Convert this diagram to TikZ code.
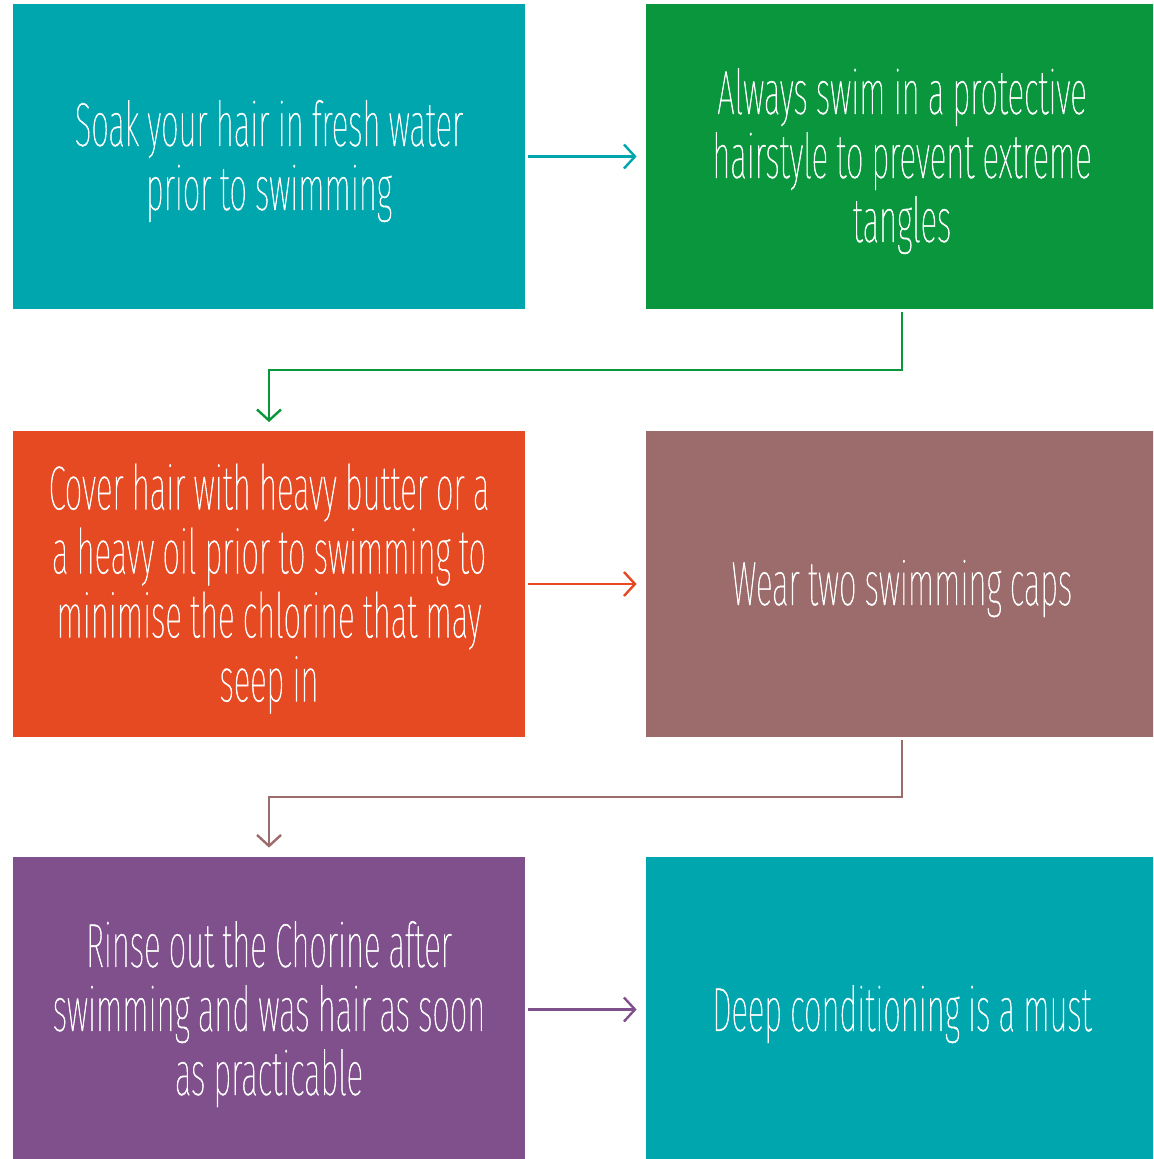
\documentclass[tikz,border=0pt]{standalone}
\usepackage{fontspec}
\setmainfont{Fira Sans Thin}[FakeStretch=0.5, FakeBold=0.8, WordSpace={0.9,0,0}]
\usetikzlibrary{arrows.meta,calc}

\definecolor{teal}{HTML}{00A6AE}
\definecolor{leaf}{HTML}{0A963C}
\definecolor{flame}{HTML}{E64A23}
\definecolor{mauve}{HTML}{9C6B6B}
\definecolor{plum}{HTML}{80508C}

\begin{document}
\begin{tikzpicture}[
    x=0.5pt, y=-0.5pt,
    font=\fontsize{31}{32}\selectfont,
    tipbox/.style={minimum width=256pt, minimum height=152.5pt, inner sep=0pt,
        align=center, text=white, text depth=1.5pt},
    flow/.style={line width=1.2pt, -{Straight Barb[length=5.5pt, width=12pt, line width=1.2pt]},
        shorten <=1.5pt, shorten >=4.5pt}
]

\useasboundingbox (0,0) rectangle (1153,1159);
\clip (0,0) rectangle (1153,1159);

% === Row 1 ===
\node[tipbox, fill=teal] (soak) at (269,156.5)
    {Soak your hair in fresh water\\ prior to swimming};
\node[tipbox, fill=leaf] (style) at (902,156.5)
    {Always swim in a protective\\ hairstyle to prevent extreme\\ tangles};

% === Row 2 ===
\node[tipbox, fill=flame] (cover) at (269,584)
    {Cover hair with heavy butter or a\\ a heavy oil prior to swimming to\\ minimise the chlorine that may\\ seep in};
\node[tipbox, fill=mauve] (caps) at (902,584)
    {Wear two swimming caps};

% === Row 3 ===
\node[tipbox, fill=plum] (rinse) at (269,1009.5)
    {Rinse out the Chorine after\\ swimming and was hair as soon\\ as practicable};
\node[tipbox, fill=teal] (deep) at (902,1009.5)
    {Deep conditioning is a must};

% arrows
\draw[flow, teal] (soak) -- (style);
\draw[flow, leaf] (style.south) |- ($(style.south)!0.5!(cover.north)$) -| (cover.north);
\draw[flow, flame] (cover) -- (caps);
\draw[flow, mauve] (caps.south) |- ($(caps.south)!0.5!(rinse.north)$) -| (rinse.north);
\draw[flow, plum] (rinse) -- (deep);

\end{tikzpicture}
\end{document}
